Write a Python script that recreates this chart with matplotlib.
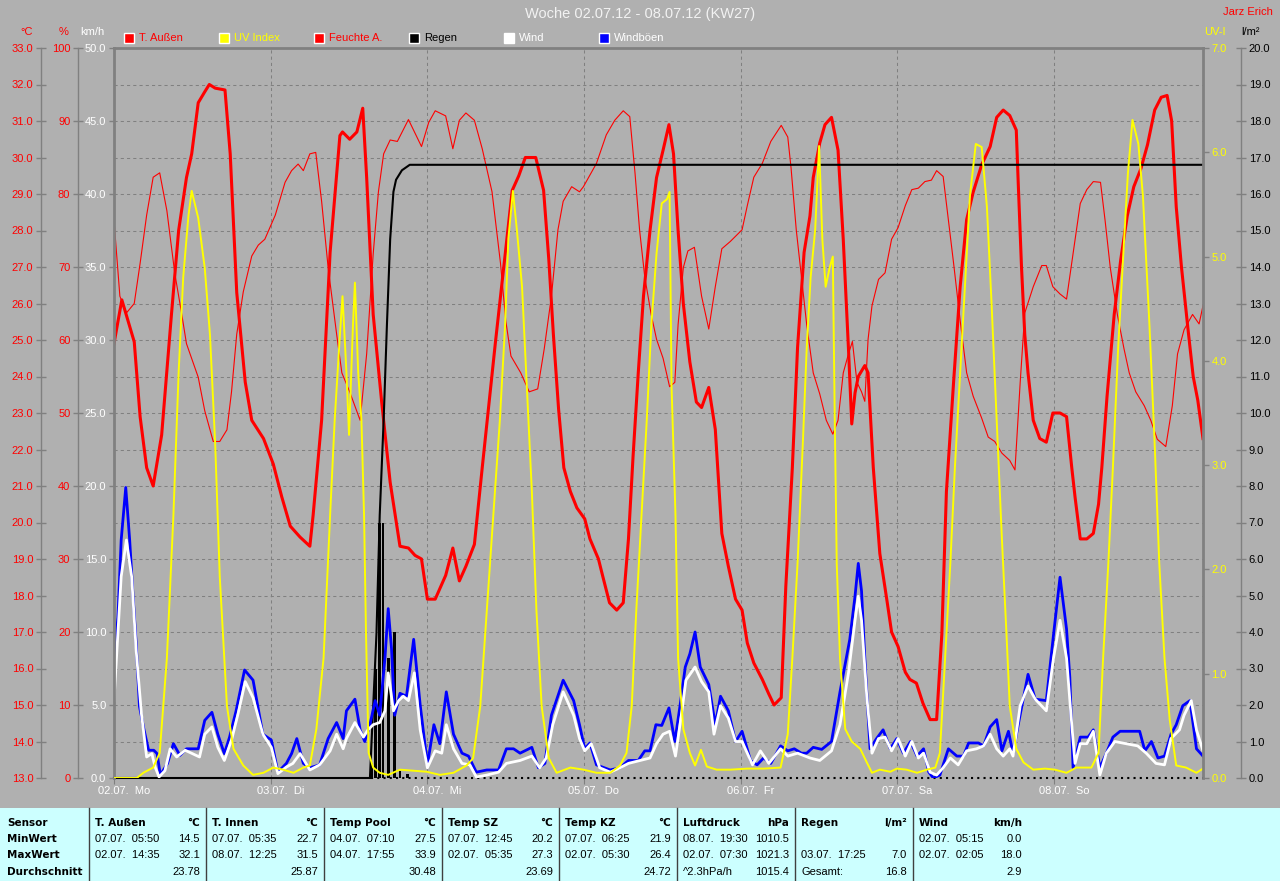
import numpy as np
import matplotlib.pyplot as plt
from matplotlib.patches import Rectangle
from matplotlib.lines import Line2D

# time axis: hours after 02.07. 00:00
t_end = 166.8
day_labels = ['02.07.  Mo', '03.07.  Di', '04.07.  Mi', '05.07.  Do', '06.07.  Fr', '07.07.  Sa', '08.07.  So']

# T. Aussen (degC)
temp_pts = [(0, 24.9), (1.2, 26.1), (3.1, 24.95), (4.0, 22.9), (5.0, 21.5), (6.0, 21.0), (7.3, 22.4),
            (8.8, 25.7), (9.9, 28.0), (11.1, 29.45), (11.9, 30.1), (12.9, 31.5), (13.9, 31.8), (14.6, 32.0),
            (15.5, 31.9), (17.0, 31.85), (17.8, 30.1), (18.8, 26.3), (20.1, 23.85), (21.1, 22.8), (22.9, 22.3),
            (24.4, 21.6), (25.7, 20.7), (27.0, 19.9), (28.5, 19.6), (30.0, 19.35), (30.5, 20.2), (31.8, 22.8),
            (33.1, 27.4), (34.6, 30.6), (35.0, 30.7), (36.1, 30.5), (37.2, 30.7), (38.1, 31.35), (38.7, 29.45),
            (39.7, 25.7), (41.0, 23.3), (42.3, 21.1), (43.8, 19.35), (45.1, 19.3), (46.1, 19.1), (47.1, 19.0),
            (48.0, 17.9), (49.2, 17.9), (50.8, 18.55), (51.9, 19.3), (52.9, 18.4), (53.9, 18.8), (55.2, 19.4),
            (56.4, 21.5), (58.4, 24.9), (60.0, 27.5), (61.0, 29.1), (62.0, 29.5), (63.0, 30.0), (64.6, 30.0),
            (65.8, 29.1), (66.6, 27.2), (67.3, 25.15), (68.1, 23.1), (68.9, 21.5), (69.9, 20.85), (70.9, 20.4),
            (72.1, 20.1), (72.9, 19.55), (74.2, 19.0), (74.9, 18.5), (75.9, 17.8), (77.0, 17.6), (78.0, 17.8),
            (78.8, 19.55), (79.5, 21.8), (80.3, 24.1), (81.1, 26.2), (82.1, 28.0), (83.1, 29.45), (84.1, 30.2),
            (85.0, 30.9), (85.7, 30.1), (86.4, 28.0), (87.2, 26.0), (88.2, 24.4), (89.2, 23.3), (90.0, 23.15),
            (91.1, 23.7), (92.1, 22.55), (93.1, 19.7), (94.1, 18.8), (95.2, 17.9), (96.2, 17.6), (97.0, 16.7),
            (98.0, 16.15), (99.3, 15.7), (100.3, 15.3), (101.1, 15.0), (102.2, 15.2), (102.9, 18.25),
            (103.9, 21.5), (104.7, 24.8), (105.7, 27.4), (106.6, 28.4), (107.1, 29.45), (108.1, 30.4),
            (108.9, 30.9), (109.9, 31.1), (110.9, 30.2), (111.7, 27.75), (112.5, 24.75), (113.0, 22.7),
            (113.5, 23.55), (114.0, 24.0), (115.0, 24.3), (115.5, 24.1), (116.3, 21.5), (117.3, 19.15),
            (118.4, 17.85), (119.1, 17.0), (120.1, 16.6), (121.2, 15.9), (121.9, 15.7), (122.9, 15.6),
            (123.9, 15.05), (125.0, 14.6), (126.0, 14.6), (126.8, 16.95), (127.5, 20.85), (128.6, 23.85),
            (129.6, 26.45), (130.6, 28.3), (131.6, 29.05), (132.9, 29.8), (134.2, 30.3), (135.2, 31.1),
            (136.2, 31.3), (137.2, 31.15), (138.2, 30.75), (138.5, 29.3), (139.0, 27.0), (139.5, 25.15),
            (140.0, 24.1), (140.8, 22.8), (141.8, 22.3), (142.8, 22.2), (143.8, 23.0), (144.9, 23.0),
            (145.9, 22.9), (146.7, 21.5), (147.2, 20.7), (148.0, 19.55), (149.0, 19.55), (150.0, 19.7),
            (150.8, 20.5), (151.3, 21.5), (152.1, 23.45), (153.2, 25.7), (154.2, 27.2), (155.2, 28.4),
            (156.2, 29.2), (157.3, 29.7), (158.3, 30.35), (159.4, 31.3), (160.4, 31.65), (161.3, 31.7),
            (162.0, 31.0), (162.7, 28.65), (163.5, 27.0), (164.5, 25.3), (165.3, 24.0), (166.0, 23.35),
            (166.8, 22.3)]

# Feuchte A. (%)
hum_pts = [(0, 76.4), (0.9, 66.0), (1.9, 63.7), (3.1, 65.0), (4.0, 70.5), (5.0, 77.1), (6.0, 82.3), (7.0, 82.9),
           (8.1, 77.7), (9.3, 69.2), (10.4, 63.4), (11.1, 59.5), (12.9, 54.9), (13.9, 50.3), (15.2, 46.1),
           (16.2, 46.1), (17.3, 47.7), (18.0, 52.9), (18.8, 60.8), (19.8, 66.6), (21.1, 71.5), (22.1, 73.0),
           (23.1, 73.8), (24.7, 77.1), (26.2, 81.6), (27.2, 83.2), (28.2, 84.1), (29.0, 83.2), (30.0, 85.5),
           (30.9, 85.7), (31.8, 79.0), (32.8, 69.9), (34.1, 60.8), (34.9, 55.5), (36.1, 52.9), (37.7, 49.0),
           (38.7, 58.1), (39.7, 71.8), (40.5, 80.3), (41.3, 85.5), (42.3, 87.4), (43.4, 87.2), (45.1, 90.2),
           (47.1, 86.5), (48.2, 89.8), (49.2, 91.4), (50.8, 90.7), (51.9, 86.2), (52.9, 90.1), (53.9, 91.1),
           (55.2, 90.1), (56.4, 86.2), (57.9, 80.3), (59.2, 70.5), (60.0, 62.7), (60.8, 57.8), (62.3, 55.5),
           (63.6, 52.9), (64.9, 53.3), (65.9, 58.8), (67.0, 66.0), (68.0, 75.1), (68.8, 79.0), (70.1, 81.0),
           (71.3, 80.3), (71.9, 81.0), (73.9, 84.2), (75.4, 88.1), (76.7, 90.1), (78.0, 91.4), (79.0, 90.6),
           (79.8, 82.9), (80.5, 75.1), (81.3, 68.6), (82.3, 63.4), (83.1, 60.1), (84.1, 57.5), (85.1, 53.6),
           (85.9, 54.2), (86.4, 62.1), (87.2, 69.9), (87.9, 72.2), (88.9, 72.7), (90.0, 66.0), (91.1, 61.5),
           (92.1, 67.3), (93.1, 72.5), (94.4, 73.5), (96.2, 75.1), (97.0, 78.4), (98.0, 82.3), (99.3, 84.2),
           (100.6, 87.2), (102.2, 89.4), (103.2, 87.8), (103.7, 83.6), (104.5, 75.1), (105.3, 68.6),
           (106.1, 62.1), (107.1, 55.5), (108.1, 52.6), (109.1, 49.0), (110.1, 47.1), (110.9, 49.0),
           (111.7, 55.5), (112.5, 58.1), (113.1, 59.8), (113.8, 54.2), (114.5, 52.9), (115.0, 51.6),
           (115.5, 60.1), (116.1, 64.7), (117.1, 68.3), (118.1, 69.2), (119.1, 73.8), (120.1, 75.4),
           (121.2, 78.4), (122.2, 80.6), (123.2, 80.8), (124.2, 81.7), (125.2, 81.9), (126.0, 83.2),
           (127.0, 82.4), (127.8, 76.4), (128.6, 70.5), (129.6, 62.7), (130.6, 55.5), (131.6, 52.3),
           (132.9, 49.3), (133.9, 46.7), (134.9, 46.1), (136.0, 44.5), (137.2, 43.5), (138.0, 42.2),
           (138.8, 54.2), (139.5, 63.7), (140.8, 67.3), (142.1, 70.2), (142.8, 70.2), (143.8, 67.3),
           (144.9, 66.3), (145.9, 65.6), (147.0, 72.5), (148.0, 78.7), (149.0, 80.6), (150.0, 81.7),
           (151.1, 81.6), (151.8, 76.4), (152.6, 69.9), (153.7, 63.4), (154.7, 58.8), (155.5, 55.5),
           (156.5, 52.9), (157.8, 51.0), (158.8, 49.0), (159.8, 46.4), (161.1, 45.4), (162.1, 51.0),
           (162.9, 58.1), (163.9, 61.4), (165.2, 63.5), (166.2, 62.2), (166.8, 64.7)]

# UV Index
uv_pts = [(0, 0), (3.5, 0), (4.5, 0.05), (6.0, 0.1), (7.0, 0.24), (8.1, 1.15), (9.1, 2.52), (9.9, 3.89),
          (10.6, 4.8), (11.4, 5.39), (11.9, 5.63), (12.9, 5.37), (13.9, 4.89), (14.7, 4.25), (15.5, 3.2),
          (16.2, 1.93), (17.3, 0.69), (18.3, 0.28), (19.8, 0.12), (21.3, 0.03), (22.9, 0.05), (24.4, 0.1),
          (25.9, 0.08), (27.5, 0.05), (29.0, 0.1), (30.0, 0.12), (31.0, 0.47), (32.1, 1.15), (33.1, 2.52),
          (33.8, 3.43), (34.6, 4.25), (35.0, 4.62), (35.6, 3.89), (36.0, 3.29), (36.6, 4.34), (36.9, 4.75),
          (37.4, 3.89), (37.9, 3.43), (38.3, 2.52), (38.6, 1.38), (39.0, 0.24), (39.7, 0.1), (40.7, 0.05),
          (42.0, 0.03), (43.8, 0.08), (45.9, 0.07), (47.9, 0.06), (49.9, 0.03), (52.0, 0.05), (54.0, 0.12),
          (55.0, 0.19), (56.1, 0.69), (57.1, 1.61), (58.1, 2.52), (59.1, 3.43), (59.9, 4.34), (60.4, 5.17),
          (61.1, 5.63), (61.7, 5.26), (62.5, 4.71), (63.2, 3.8), (64.0, 2.75), (64.7, 1.61), (65.5, 0.69),
          (66.6, 0.19), (67.8, 0.05), (69.9, 0.1), (71.9, 0.08), (73.9, 0.05), (76.0, 0.05), (77.5, 0.12),
          (78.5, 0.24), (79.3, 0.69), (80.0, 1.61), (80.8, 2.52), (81.6, 3.43), (82.3, 4.34), (83.1, 5.03),
          (83.9, 5.51), (84.7, 5.55), (85.1, 5.62), (85.4, 3.75), (86.0, 2.52), (86.4, 1.15), (87.2, 0.47),
          (88.2, 0.24), (89.0, 0.12), (89.9, 0.27), (90.8, 0.11), (92.3, 0.08), (94.4, 0.08), (97.0, 0.09),
          (99.5, 0.09), (102.1, 0.1), (103.2, 0.42), (103.9, 1.15), (104.7, 2.06), (105.5, 3.2), (106.1, 4.12),
          (106.7, 4.8), (107.4, 5.26), (108.0, 6.06), (108.5, 5.16), (109.0, 4.71), (109.6, 4.89), (110.1, 5.0),
          (110.4, 3.43), (110.7, 2.06), (111.2, 1.15), (112.0, 0.47), (113.0, 0.35), (114.3, 0.28),
          (115.3, 0.15), (116.1, 0.05), (117.3, 0.08), (118.9, 0.06), (119.9, 0.09), (121.4, 0.08),
          (123.0, 0.05), (124.5, 0.08), (125.8, 0.1), (126.5, 0.24), (127.3, 1.15), (128.1, 2.06),
          (128.8, 2.98), (129.6, 3.89), (130.4, 4.8), (131.1, 5.58), (132.0, 6.08), (132.9, 6.05),
          (133.7, 5.48), (134.4, 4.57), (135.2, 3.43), (136.0, 2.29), (136.7, 1.38), (137.2, 0.69),
          (138.2, 0.28), (139.3, 0.15), (140.8, 0.08), (142.6, 0.09), (144.1, 0.08), (145.9, 0.05),
          (147.4, 0.1), (149.7, 0.1), (150.8, 0.24), (151.5, 1.15), (152.3, 2.06), (153.0, 2.98),
          (153.8, 4.12), (154.6, 5.03), (155.3, 5.8), (156.0, 6.31), (156.9, 6.08), (157.6, 5.58),
          (158.6, 4.34), (159.4, 3.2), (160.1, 2.06), (160.9, 1.15), (161.7, 0.56), (162.7, 0.12),
          (164.2, 0.1), (165.8, 0.05), (166.8, 0.09)]

# Regen: cumulative sum (l/m2) and single amounts
rain_sum_pts = [(0, 0), (39.2, 0), (40.2, 3.94), (40.7, 7.2), (41.3, 9.8), (41.8, 12.4), (42.3, 14.76),
                (42.8, 16.06), (43.2, 16.39), (44.1, 16.65), (45.3, 16.8), (166.8, 16.8)]
rain_bar_h = [39.4, 40.1, 40.7, 41.2, 42.0, 43.0, 43.8, 45.0]
rain_bar_val = [0.4, 3.0, 7.0, 7.0, 3.3, 4.0, 0.2, 0.1]

# Windboeen (km/h)
gust_pts = [(0, 8.3), (0.6, 11.0), (1.1, 16.3), (1.8, 19.9), (2.4, 16.3), (2.9, 12.6), (3.4, 9.2), (3.9, 4.9),
            (4.6, 3.3), (5.3, 1.9), (6.1, 1.9), (6.6, 1.67), (7.1, 0.2), (8.2, 1.0), (9.1, 2.35), (10.1, 1.55),
            (11.1, 2.0), (12.9, 2.0), (13.9, 3.95), (15.0, 4.5), (15.9, 3.0), (16.9, 1.67), (17.7, 2.8),
            (18.7, 4.6), (20.0, 7.4), (21.3, 6.7), (22.8, 3.0), (24.1, 2.6), (25.1, 0.4), (26.4, 1.0),
            (27.2, 1.67), (28.0, 2.7), (29.0, 1.0), (30.0, 0.7), (31.5, 0.9), (32.8, 2.7), (34.1, 3.8),
            (35.1, 2.7), (35.6, 4.6), (36.9, 5.4), (37.7, 3.3), (38.4, 2.5), (39.2, 3.65), (40.0, 5.3),
            (40.7, 4.3), (41.5, 8.2), (42.0, 11.6), (42.5, 8.9), (43.0, 4.3), (43.8, 5.8), (44.8, 5.6),
            (45.9, 9.5), (46.9, 5.0), (48.0, 0.9), (49.0, 3.65), (49.9, 2.35), (50.9, 5.9), (52.0, 3.0),
            (53.3, 1.7), (54.3, 1.5), (55.5, 0.4), (57.1, 0.55), (58.9, 0.55), (60.1, 2.0), (61.2, 2.0),
            (62.2, 1.7), (64.0, 2.1), (65.0, 0.7), (66.0, 1.0), (67.0, 4.3), (68.8, 6.7), (70.4, 5.3),
            (71.3, 3.65), (72.1, 2.0), (72.9, 2.4), (73.9, 0.9), (76.0, 0.55), (77.5, 0.7), (78.8, 1.2),
            (80.3, 1.2), (81.3, 1.86), (82.1, 1.86), (83.0, 3.65), (83.9, 3.6), (85.0, 4.8), (85.9, 2.5),
            (86.7, 4.95), (87.5, 7.6), (88.2, 8.5), (89.0, 10.0), (89.8, 7.6), (91.1, 6.4), (92.1, 3.65),
            (92.9, 5.6), (94.1, 4.6), (95.2, 2.5), (96.2, 3.2), (97.5, 1.2), (98.5, 0.9), (99.5, 1.37),
            (100.6, 1.0), (102.1, 2.2), (103.2, 1.86), (104.2, 2.0), (105.3, 1.7), (106.1, 1.7), (107.1, 2.1),
            (108.4, 1.96), (109.9, 2.5), (111.2, 5.9), (112.7, 9.5), (113.5, 12.45), (114.0, 14.7),
            (114.5, 12.8), (115.0, 8.2), (115.8, 2.0), (116.8, 2.7), (117.8, 3.3), (118.9, 2.0), (119.9, 2.7),
            (120.9, 1.7), (122.0, 2.5), (123.0, 1.5), (124.0, 2.0), (124.8, 0.4), (125.5, 0.0), (126.5, 0.2),
            (127.8, 2.0), (129.1, 1.5), (130.1, 1.5), (130.9, 2.4), (132.4, 2.4), (133.2, 2.2), (134.2, 3.5),
            (135.2, 4.0), (136.0, 1.86), (137.0, 3.2), (137.7, 1.7), (138.5, 3.65), (140.0, 7.1),
            (141.1, 5.4), (142.8, 5.3), (143.9, 9.8), (144.9, 13.75), (145.9, 10.2), (146.4, 6.9),
            (146.9, 0.7), (148.0, 2.8), (149.2, 2.8), (150.0, 3.3), (151.0, 0.7), (152.0, 1.7), (153.0, 2.8),
            (154.1, 3.2), (157.1, 3.2), (157.9, 1.86), (158.9, 2.5), (159.9, 1.37), (160.9, 1.5),
            (161.9, 3.0), (162.7, 3.65), (163.7, 4.95), (164.8, 5.3), (165.8, 2.0), (166.8, 1.5)]

# Wind (km/h)
wind_pts = [(0, 5.3), (0.6, 9.9), (1.1, 13.8), (1.9, 16.3), (2.7, 13.8), (3.4, 8.7), (4.2, 4.4), (5.0, 1.44),
            (5.8, 1.67), (6.3, 0.75), (6.9, 0.07), (7.8, 0.5), (8.6, 2.0), (9.6, 1.44), (10.9, 1.9),
            (13.1, 1.44), (13.9, 3.0), (15.0, 3.5), (15.9, 2.1), (16.9, 1.2), (18.0, 2.6), (19.0, 4.4),
            (20.1, 6.6), (21.3, 5.5), (22.8, 3.0), (24.1, 2.1), (25.1, 0.3), (26.4, 0.75), (27.4, 1.0),
            (28.5, 1.67), (30.0, 0.55), (31.5, 0.9), (33.1, 1.86), (34.1, 3.0), (35.1, 2.0), (35.6, 2.7),
            (36.9, 3.8), (38.2, 2.8), (38.9, 3.3), (39.7, 3.65), (40.7, 3.8), (41.5, 4.6), (42.0, 7.2),
            (42.8, 4.6), (43.6, 5.3), (44.3, 5.6), (45.1, 5.3), (46.0, 7.2), (46.9, 3.3), (48.0, 0.7),
            (49.2, 1.86), (50.2, 1.7), (50.9, 3.65), (52.0, 2.0), (53.3, 1.0), (54.5, 0.9), (55.5, 0.07),
            (57.1, 0.2), (58.9, 0.4), (60.1, 1.0), (62.2, 1.2), (64.0, 1.5), (65.2, 0.7), (66.2, 1.37),
            (67.2, 3.65), (68.8, 5.9), (70.4, 4.3), (71.3, 2.7), (72.1, 1.86), (73.1, 2.35), (74.4, 0.7),
            (76.0, 0.4), (77.5, 0.7), (78.8, 1.0), (80.6, 1.2), (82.1, 1.37), (83.1, 2.35), (84.1, 3.0),
            (85.1, 3.2), (86.0, 1.5), (86.9, 4.3), (87.6, 6.7), (89.0, 7.6), (90.0, 6.6), (91.1, 5.9),
            (91.9, 3.0), (92.9, 4.95), (94.1, 4.1), (95.2, 2.5), (96.2, 2.5), (97.8, 0.9), (99.0, 1.86),
            (100.3, 1.0), (102.1, 2.0), (103.2, 1.5), (104.7, 1.7), (106.6, 1.37), (108.1, 1.2), (109.9, 1.86),
            (111.2, 3.65), (112.5, 7.2), (113.5, 10.8), (114.0, 12.45), (114.5, 10.8), (115.3, 5.6),
            (116.1, 1.7), (117.1, 2.7), (118.1, 2.8), (119.1, 1.86), (120.1, 2.7), (121.2, 1.5), (122.2, 2.5),
            (123.2, 1.37), (124.0, 1.7), (125.0, 0.4), (126.0, 0.2), (127.0, 0.7), (128.1, 1.37), (129.3, 0.9),
            (130.6, 1.86), (132.1, 2.0), (133.2, 2.2), (134.2, 3.0), (135.2, 2.0), (136.2, 1.5), (137.2, 2.0),
            (137.7, 1.5), (138.8, 4.95), (140.0, 6.3), (141.1, 5.4), (142.8, 4.6), (143.9, 8.2), (144.9, 10.8),
            (145.9, 8.2), (146.7, 3.65), (147.2, 1.0), (148.0, 2.35), (149.0, 2.35), (150.0, 3.2), (151.0, 0.2),
            (152.0, 1.7), (153.3, 2.5), (155.0, 2.35), (156.8, 2.2), (158.1, 1.7), (159.6, 1.0), (160.9, 0.9),
            (161.9, 2.7), (163.2, 3.3), (163.9, 4.3), (165.0, 5.3), (165.8, 3.3), (166.8, 1.86)]

legend_names = ['T. Außen', 'UV Index', 'Feuchte A.', 'Regen', 'Wind', 'Windböen']
legend_colors = ['#FF0000', '#FFFF00', '#FF0000', '#000000', '#FFFFFF', '#0000FF']
legend_text_colors = ['#FF0000', '#FFFF00', '#FF0000', '#000000', '#FFFFFF', '#FFFFFF']

# summary table
tab_names = ['T. Außen', 'T. Innen', 'Temp Pool', 'Temp SZ', 'Temp KZ', 'Luftdruck', 'Regen', 'Wind']
tab_units = ['°C', '°C', '°C', '°C', '°C', 'hPa', 'l/m²', 'km/h']
tab_min_time = ['07.07.  05:50', '07.07.  05:35', '04.07.  07:10', '07.07.  12:45', '07.07.  06:25',
                '08.07.  19:30', '', '02.07.  05:15']
tab_min_val = ['14.5', '22.7', '27.5', '20.2', '21.9', '1010.5', '', '0.0']
tab_max_time = ['02.07.  14:35', '08.07.  12:25', '04.07.  17:55', '02.07.  05:35', '02.07.  05:30',
                '02.07.  07:30', '03.07.  17:25', '02.07.  02:05']
tab_max_val = ['32.1', '31.5', '33.9', '27.3', '26.4', '1021.3', '7.0', '18.0']
tab_avg_text = ['', '', '', '', '', '^2.3hPa/h', 'Gesamt:', '']
tab_avg_val = ['23.78', '25.87', '30.48', '23.69', '24.72', '1015.4', '16.8', '2.9']
tab_rows = ['Sensor', 'MinWert', 'MaxWert', 'Durchschnitt']

plt.rcParams['font.family'] = ['Liberation Sans', 'DejaVu Sans']

W, H = 1280, 881
BG = '#B0B0B0'
FRAME = '#808080'

fig = plt.figure(figsize=(12.8, 8.81), dpi=100, facecolor=BG)
rect = [114 / W, 103 / H, 1089 / W, 730 / H]
span = 1089.0


def new_axes(name, z):
    a = fig.add_axes(rect, label=name, zorder=z)
    a.patch.set_visible(False)
    for s in a.spines.values():
        s.set_visible(False)
    a.set_xlim(0, t_end)
    a.tick_params(axis='x', which='both', bottom=False, labelbottom=False)
    return a


def side_axis(a, where, offset_px, lo, hi, step, fmt, color, direction, length):
    a.set_ylim(lo, hi)
    sp = a.spines[where]
    sp.set_visible(True)
    sp.set_color(FRAME)
    sp.set_linewidth(1)
    pos = offset_px / span if where == 'left' else 1 + offset_px / span
    sp.set_position(('axes', pos))
    if where == 'left':
        a.yaxis.tick_left()
    else:
        a.yaxis.tick_right()
    ticks = np.arange(lo, hi + step / 2, step)
    a.set_yticks(ticks)
    a.set_yticklabels([fmt % v for v in ticks])
    a.tick_params(axis='y', colors=FRAME, labelcolor=color, direction=direction,
                  length=length, width=1, pad=2, labelsize=8)


ax_h = new_axes('hum', 1)
ax_t = new_axes('temp', 2)
ax_r = new_axes('rain', 3)
ax_w = new_axes('wind', 4)
ax_uv = new_axes('uv', 5)

side_axis(ax_h, 'left', -36, 0, 100, 10, '%d', '#FF0000', 'inout', 7)
side_axis(ax_t, 'left', -73, 13, 33, 1, '%.1f', '#FF0000', 'inout', 7)
side_axis(ax_w, 'left', 0, 0, 50, 5, '%.1f', '#FFFFFF', 'out', 3.5)
side_axis(ax_uv, 'right', 0, 0, 7, 1, '%.1f', '#FFFF00', 'out', 4)
side_axis(ax_r, 'right', 38, 0, 20, 1, '%.1f', '#000000', 'inout', 7)

# plot frame
ax_w.spines['left'].set_linewidth(2)
ax_w.spines['top'].set_visible(True)
ax_w.spines['top'].set_color(FRAME)
ax_w.spines['top'].set_linewidth(2)
ax_uv.spines['right'].set_linewidth(2)

# grid (1 degC steps = 5 % steps)
for y in np.arange(5, 100, 5):
    ax_h.axhline(y, color=FRAME, lw=0.75, ls=(0, (3, 3)))
days = np.arange(0, t_end, 24)
for d in days[1:]:
    ax_h.axvline(d, color=FRAME, lw=0.75, ls=(0, (3, 3)))

# x ticks on the humidity axes
ax_h.set_xticks(days)
ax_h.set_xticklabels([''] * len(days))
ax_h.set_xticks(days + 1.5, minor=True)
ax_h.set_xticklabels(day_labels[:len(days)], minor=True)
ax_h.tick_params(axis='x', which='major', bottom=True, length=4, color=FRAME, direction='out')
ax_h.tick_params(axis='x', which='minor', bottom=True, labelbottom=True, length=0, pad=6,
                 labelcolor='#FFFFFF', labelsize=8)

# series
h_t, v_t = zip(*temp_pts)
h_h, v_h = zip(*hum_pts)
h_uv, v_uv = zip(*uv_pts)
h_rs, v_rs = zip(*rain_sum_pts)
h_g, v_g = zip(*gust_pts)
h_w, v_w = zip(*wind_pts)

ax_h.plot(h_h, v_h, color='#FF0000', lw=0.8)
ax_t.plot(h_t, v_t, color='#FF0000', lw=2.2)
ax_r.bar(rain_bar_h, rain_bar_val, width=0.42, color='#000000')
ax_r.hlines(0, rain_bar_h[0], t_end, color='#000000', lw=1.5, linestyles=(0, (1, 2)), clip_on=False)
ax_r.plot(h_rs[:2], v_rs[:2], color='#000000', lw=1.5, clip_on=False)
ax_r.plot(h_rs[1:], v_rs[1:], color='#000000', lw=1.5)
ax_w.plot(h_g, v_g, color='#0000FF', lw=2.0)
ax_w.plot(h_w, v_w, color='#FFFFFF', lw=2.0)
ax_uv.plot(h_uv, v_uv, color='#FFFF00', lw=1.4)

# header texts
fig.text(640 / W, 1 - 14 / H, 'Woche 02.07.12 - 08.07.12 (KW27)', color='#F2F2F2', fontsize=10.5,
         ha='center', va='center')
fig.text(1273 / W, 1 - 12 / H, 'Jarz Erich', color='#FF0000', fontsize=8, ha='right', va='center')
for x, s, c in [(27, '°C', '#FF0000'), (64, '%', '#FF0000'), (92, 'km/h', '#FFFFFF'),
                (1215, 'UV-I', '#FFFF00'), (1250, 'l/m²', '#000000')]:
    fig.text(x / W, 1 - 32 / H, s, color=c, fontsize=8, ha='center', va='center')

for i, name in enumerate(legend_names):
    x0 = 124 + 95 * i
    fig.add_artist(Rectangle((x0 / W, 1 - 43 / H), 10 / W, 10 / H, transform=fig.transFigure,
                             facecolor=legend_colors[i], edgecolor='#FFFFFF', lw=1))
    fig.text((x0 + 15) / W, 1 - 38 / H, name, color=legend_text_colors[i], fontsize=8,
             ha='left', va='center')

# summary table
foot_top = 808
fig.add_artist(Rectangle((0, 0), 1, (H - foot_top) / H, transform=fig.transFigure,
                         facecolor='#CCFFFF', edgecolor='none'))
col_edges = [0, 89, 206, 324, 442, 559, 677, 795, 913, 1028]
row_y = [823, 839, 855, 872]
for x in col_edges[1:-1]:
    fig.add_artist(Line2D([x / W, x / W], [0, (H - foot_top) / H], transform=fig.transFigure,
                          color='#404040', lw=1))
bold = dict(family='DejaVu Sans', fontsize=7.5, fontweight='bold', color='#000000', va='center')
norm = dict(fontsize=8, color='#000000', va='center')
for r, name in enumerate(tab_rows):
    fig.text(7 / W, 1 - row_y[r] / H, name, ha='left', **bold)
for i in range(len(tab_names)):
    xl = (col_edges[i + 1] + 6) / W
    xr = (col_edges[i + 2] - 6) / W
    fig.text(xl, 1 - row_y[0] / H, tab_names[i], ha='left', **bold)
    fig.text(xr, 1 - row_y[0] / H, tab_units[i], ha='right', **bold)
    fig.text(xl, 1 - row_y[1] / H, tab_min_time[i], ha='left', **norm)
    fig.text(xr, 1 - row_y[1] / H, tab_min_val[i], ha='right', **norm)
    fig.text(xl, 1 - row_y[2] / H, tab_max_time[i], ha='left', **norm)
    fig.text(xr, 1 - row_y[2] / H, tab_max_val[i], ha='right', **norm)
    fig.text(xl, 1 - row_y[3] / H, tab_avg_text[i], ha='left', **norm)
    fig.text(xr, 1 - row_y[3] / H, tab_avg_val[i], ha='right', **norm)

fig.savefig('out.png', dpi=100, facecolor=BG)
